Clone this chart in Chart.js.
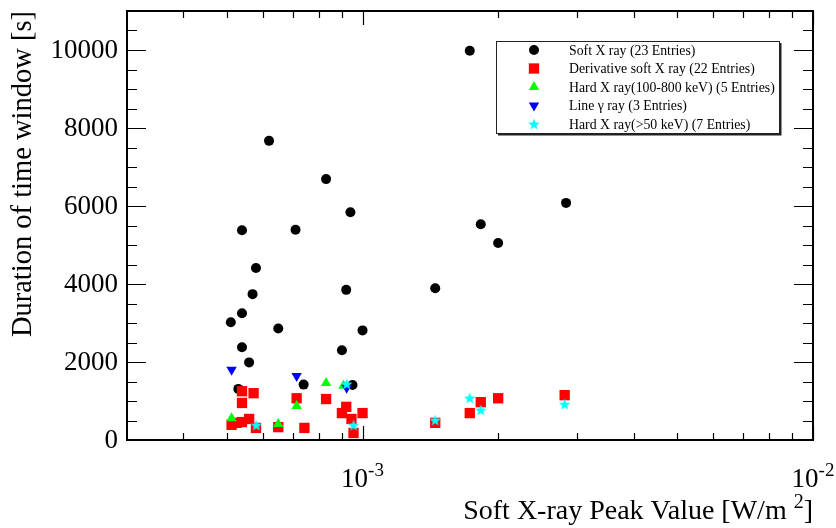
<!DOCTYPE html>
<html>
<head>
<meta charset="utf-8">
<script src="https://cdn.jsdelivr.net/npm/chart.js@4.4.1/dist/chart.umd.min.js"></script>
<style>
  html, body { margin: 0; padding: 0; background: #fff; }
  #wrap { width: 836px; height: 528px; }
</style>
</head>
<body>
<div id="wrap"><canvas id="scatter-chart" width="836" height="528"></canvas></div>
<script>
// series (x in W/m^2, y in seconds)
const softX = [1.73e-3, 6.2e-4, 8.3e-4, 9.4e-4, 5.4e-4, 7.1e-4, 5.8e-4, 5.7e-4, 5.4e-4, 5.1e-4, 6.5e-4, 9.2e-4,
               1.0e-3, 9.0e-4, 5.4e-4, 5.6e-4, 5.3e-4, 7.4e-4, 9.5e-4, 1.45e-3, 1.83e-3, 2.0e-3, 2.83e-3];
const softY = [9980, 7670, 6690, 5840, 5380, 5390, 4410, 3740, 3250, 3020, 2860, 3850,
               2810, 2300, 2380, 1990, 1310, 1420, 1410, 3890, 5530, 5050, 6080];

const derivX = [5.4e-4, 5.73e-4, 5.4e-4, 7.14e-4, 8.3e-4, 9.2e-4, 9.0e-4, 1.0e-3, 9.45e-4, 9.55e-4, 7.43e-4,
                6.5e-4, 5.8e-4, 5.6e-4, 5.4e-4, 5.25e-4, 5.12e-4, 1.45e-3, 1.73e-3, 1.83e-3, 2.0e-3, 2.81e-3];
const derivY = [1250, 1200, 950, 1070, 1050, 850, 690, 690, 540, 180, 310,
                330, 310, 540, 460, 440, 390, 440, 690, 970, 1070, 1150];

const hardX = [5.12e-4, 7.14e-4, 8.3e-4, 6.5e-4, 9.07e-4];
const hardY = [560, 870, 1460, 410, 1390];

const gammaX = [5.12e-4, 7.14e-4, 9.22e-4];
const gammaY = [1800, 1640, 1340];

const hard50X = [9.22e-4, 5.81e-4, 9.55e-4, 1.45e-3, 1.73e-3, 1.83e-3, 2.81e-3];
const hard50Y = [1440, 380, 380, 510, 1080, 770, 920];

const seriesLabels = [
    'Soft X ray (23 Entries)',
    'Derivative soft X ray (22 Entries)',
    'Hard X ray(100-800 keV) (5 Entries)',
    'Line \u03b3 ray (3 Entries)',
    'Hard X ray(>50 keV) (7 Entries)'
];

// axis ticks
const yMajorTicks = [0, 2000, 4000, 6000, 8000, 10000];
const yMinorTicks = [500, 1000, 1500, 2500, 3000, 3500, 4500, 5000, 5500, 6500, 7000, 7500, 8500, 9000, 9500, 10500];
const xMajorTicks = [1e-3, 1e-2];
const xMinorTicks = [4e-4, 5e-4, 6e-4, 7e-4, 8e-4, 9e-4, 2e-3, 3e-3, 4e-3, 5e-3, 6e-3, 7e-3, 8e-3, 9e-3];
const xTickExponents = ['-3', '-2'];

const FONT = "'Liberation Serif', 'DejaVu Serif', serif";

function toPoints(xs, ys) {
    return xs.map((x, i) => ({ x: x, y: ys[i] }));
}

// filled five point star, like ROOT marker 29
function makeStar(color, size) {
    const c = document.createElement('canvas');
    c.width = size;
    c.height = size;
    const g = c.getContext('2d');
    const cx = size / 2, cy = size / 2, R = size / 2, r = R * 0.42;
    g.beginPath();
    for (let i = 0; i < 10; i++) {
        const rad = i % 2 === 0 ? R : r;
        const a = -Math.PI / 2 + i * Math.PI / 5;
        const px = cx + rad * Math.cos(a), py = cy + rad * Math.sin(a) + size * 0.05;
        if (i === 0) g.moveTo(px, py); else g.lineTo(px, py);
    }
    g.closePath();
    g.fillStyle = color;
    g.fill();
    return c;
}

const starImg = makeStar('#00ffff', 12);

const styles = [
    { pointStyle: 'circle', radius: 5, rotation: 0, color: '#000000' },
    { pointStyle: 'rect', radius: 7.3, rotation: 0, color: '#ff0000' },
    { pointStyle: 'triangle', radius: 6, rotation: 0, color: '#00ff00' },
    { pointStyle: 'triangle', radius: 6, rotation: 180, color: '#0000ff' },
    { pointStyle: starImg, radius: 6, rotation: 0, color: '#00ffff' }
];

const allData = [
    toPoints(softX, softY),
    toPoints(derivX, derivY),
    toPoints(hardX, hardY),
    toPoints(gammaX, gammaY),
    toPoints(hard50X, hard50Y)
];

const datasets = allData.map((pts, i) => ({
    label: seriesLabels[i],
    data: pts,
    pointStyle: styles[i].pointStyle,
    pointRadius: styles[i].radius,
    pointRotation: styles[i].rotation,
    backgroundColor: styles[i].color,
    borderColor: styles[i].color,
    borderWidth: 0,
    order: 5 - i
}));

// frame, inward ticks, labels, titles and legend drawn ROOT style
const rootFrame = {
    id: 'rootFrame',
    afterDraw(chart) {
        const ctx = chart.ctx;
        const xs = chart.scales.x, ys = chart.scales.y;
        const a = chart.chartArea;
        ctx.save();
        ctx.strokeStyle = '#000';
        ctx.fillStyle = '#000';

        // ticks
        ctx.lineWidth = 1.2;
        ctx.beginPath();
        const yTick = (v, len) => {
            const py = Math.round(ys.getPixelForValue(v)) + 0.5;
            ctx.moveTo(a.left, py); ctx.lineTo(a.left + len, py);
            ctx.moveTo(a.right, py); ctx.lineTo(a.right - len, py);
        };
        const xTick = (v, len) => {
            const px = Math.round(xs.getPixelForValue(v)) + 0.5;
            ctx.moveTo(px, a.bottom); ctx.lineTo(px, a.bottom - len);
            ctx.moveTo(px, a.top); ctx.lineTo(px, a.top + len);
        };
        yMajorTicks.forEach(v => yTick(v, 19));
        yMinorTicks.forEach(v => yTick(v, 10));
        xMajorTicks.forEach(v => xTick(v, 14));
        xMinorTicks.forEach(v => xTick(v, 7));
        ctx.stroke();

        // frame
        ctx.lineWidth = 2;
        ctx.strokeRect(a.left, a.top, a.right - a.left, a.bottom - a.top);

        // y labels
        ctx.font = '27px ' + FONT;
        ctx.textAlign = 'right';
        ctx.textBaseline = 'middle';
        yMajorTicks.forEach(v => {
            ctx.fillText(String(v), a.left - 9, ys.getPixelForValue(v) + 1);
        });

        // x labels 10^n
        ctx.textBaseline = 'alphabetic';
        ctx.textAlign = 'left';
        xMajorTicks.forEach((v, i) => {
            ctx.font = '27px ' + FONT;
            const base = '10';
            const wb = ctx.measureText(base).width;
            ctx.font = '19px ' + FONT;
            const we = ctx.measureText(xTickExponents[i]).width;
            const px = xs.getPixelForValue(v);
            const x0 = px - (wb + we) / 2;
            ctx.font = '27px ' + FONT;
            ctx.fillText(base, x0, 487);
            ctx.font = '19px ' + FONT;
            ctx.fillText(xTickExponents[i], x0 + wb, 476);
        });

        // x title, right aligned at frame end
        ctx.font = '28px ' + FONT;
        const t1 = 'Soft X-ray Peak Value [W/m ';
        const t2 = '2';
        const t3 = ']';
        const w1 = ctx.measureText(t1).width;
        const w3 = ctx.measureText(t3).width;
        ctx.font = '20px ' + FONT;
        const w2 = ctx.measureText(t2).width;
        let tx = a.right - (w1 + w2 + w3);
        ctx.font = '28px ' + FONT;
        ctx.fillText(t1, tx, 519);
        ctx.font = '20px ' + FONT;
        ctx.fillText(t2, tx + w1, 508);
        ctx.font = '28px ' + FONT;
        ctx.fillText(t3, tx + w1 + w2, 519);

        // y title, rotated, ending at frame top
        ctx.save();
        ctx.translate(31, a.top);
        ctx.rotate(-Math.PI / 2);
        ctx.textAlign = 'right';
        ctx.font = '28.5px ' + FONT;
        ctx.fillText('Duration of time window [s]', 0, 0);
        ctx.restore();

        // legend box
        const lx = 496, ly = 41, lw = 283, lh = 92;
        ctx.fillStyle = '#fff';
        ctx.fillRect(lx, ly, lw, lh);
        ctx.strokeStyle = '#222';
        ctx.lineWidth = 1;
        ctx.strokeRect(lx + 0.5, ly + 0.5, lw, lh);
        ctx.lineWidth = 2;
        ctx.beginPath();
        ctx.moveTo(lx + lw + 1.5, ly + 2);
        ctx.lineTo(lx + lw + 1.5, ly + lh + 1.5);
        ctx.lineTo(lx + 2, ly + lh + 1.5);
        ctx.stroke();

        const rows = [50, 68.5, 87, 105.5, 124];
        ctx.font = '13.8px ' + FONT;
        ctx.textAlign = 'left';
        ctx.textBaseline = 'middle';
        seriesLabels.forEach((lab, i) => {
            ctx.fillStyle = styles[i].color;
            ctx.strokeStyle = styles[i].color;
            Chart.helpers.drawPoint(ctx, {
                pointStyle: styles[i].pointStyle,
                radius: styles[i].radius,
                rotation: styles[i].rotation,
                borderWidth: 0
            }, 534, rows[i]);
            ctx.fillStyle = '#000';
            ctx.fillText(lab, 569, rows[i] + 1);
        });
        ctx.restore();
    }
};

new Chart(document.getElementById('scatter-chart').getContext('2d'), {
    type: 'scatter',
    data: { datasets: datasets },
    options: {
        responsive: false,
        animation: false,
        devicePixelRatio: 1,
        layout: { padding: { left: 127, right: 23, top: 11, bottom: 88 } },
        plugins: {
            legend: { display: false },
            tooltip: { enabled: false }
        },
        scales: {
            x: { type: 'logarithmic', min: 3e-4, max: 1e-2, display: false },
            y: { type: 'linear', min: 0, max: 11000, display: false }
        }
    },
    plugins: [rootFrame]
});
</script>
</body>
</html>
